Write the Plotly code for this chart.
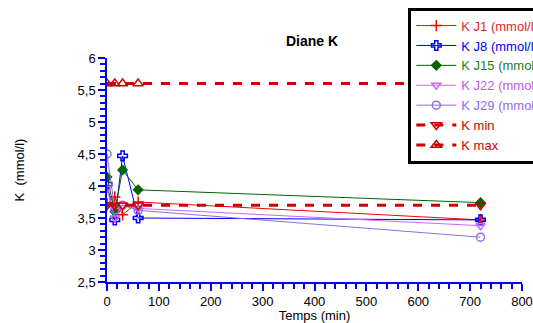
import plotly.graph_objects as go

# Sampling times (min)
temps = [0, 15, 30, 60, 720]

# Potassium values (mmol/l) per day
k_j1 = [3.72, 3.83, 3.55, 3.75, 3.47]
k_j8 = [4.03, 3.47, 4.47, 3.50, 3.47]
k_j15 = [4.14, 3.60, 4.25, 3.94, 3.74]
k_j22 = [3.96, 3.50, 3.70, 3.65, 3.38]
k_j29 = [4.50, 3.63, 3.70, 3.62, 3.20]

# Reference limits
k_min = [3.7, 3.7, 3.7, 3.7, 3.7]
k_max = [5.6, 5.6, 5.6, 5.6, 5.6]

y_ticks = [2.5, 3, 3.5, 4, 4.5, 5, 5.5, 6]
x_ticks = [0, 100, 200, 300, 400, 500, 600, 700, 800]


def label(text, color):
    return f"<span style='color:{color}'>{text}</span>"


series = [
    ("K J1 (mmol/l)", k_j1, "#ff0000", "#e8242b", "cross-thin-open", 8, 1, "solid"),
    ("K J8 (mmol/l)", k_j8, "#0000ff", "#0000ff", "cross-open", 8, 1, "solid"),
    ("K J15 (mmol/l)", k_j15, "#006400", "#1e7d1e", "diamond", 7, 1, "solid"),
    ("K J22 (mmol/l)", k_j22, "#cc66ff", "#c25ce8", "triangle-down-open", 8, 1, "solid"),
    ("K J29 (mmol/l)", k_j29, "#8c6ee6", "#8c6ee6", "circle-open", 8, 1, "solid"),
    ("K min", k_min, "#cc0000", "#cc0000", "triangle-down-open", 9, 3, "dash"),
    ("K max", k_max, "#cc0000", "#cc0000", "triangle-up-open", 9, 3, "dash"),
]

fig = go.Figure()
for name, vals, col, txtcol, sym, size, lw, dash in series:
    fig.add_trace(go.Scatter(
        x=temps, y=vals, mode="lines+markers", name=label(name, txtcol),
        line=dict(color=col, width=lw, dash=dash),
        marker=dict(symbol=sym, size=size, color=col,
                    line=dict(color=col, width=1.5)),
    ))

axis_font = dict(family="Liberation Sans, Arial", size=13, color="black")

fig.update_layout(
    width=533, height=323,
    paper_bgcolor="white", plot_bgcolor="white",
    separators=", ",
    margin=dict(l=107, r=11, t=58, b=41, autoexpand=False),
    font=dict(family="Liberation Sans, Arial", size=12, color="black"),
    title=dict(text="<b>Diane K</b>", x=312 / 533, y=1 - 41 / 323,
               xanchor="center", yanchor="middle",
               font=dict(family="Liberation Sans, Arial", size=14, color="black")),
    showlegend=True,
    legend=dict(x=0.726, y=1.225, xanchor="left", yanchor="top",
                bgcolor="white", bordercolor="black", borderwidth=3,
                font=dict(family="Liberation Sans, Arial", size=13),
                itemwidth=40, tracegroupgap=0),
    xaxis=dict(range=[0, 800], tickvals=x_ticks, showgrid=False, zeroline=False,
               showline=True, linecolor="#0000ff", linewidth=1.5,
               ticks="outside", ticklen=7, tickcolor="#0000ff", tickwidth=1.5,
               tickfont=axis_font,
               minor=dict(dtick=20, ticks="outside", ticklen=5,
                          tickcolor="#0000ff", tickwidth=1.5, showgrid=False),
               title=dict(text="Temps (min)", standoff=2,
                          font=dict(family="Liberation Sans, Arial", size=13))),
    yaxis=dict(range=[2.5, 6], tickvals=y_ticks, showgrid=False, zeroline=False,
               showline=True, linecolor="#0000ff", linewidth=1.5,
               ticks="outside", ticklen=7, tickcolor="#0000ff", tickwidth=1.5,
               tickfont=axis_font,
               minor=dict(dtick=0.1, ticks="outside", ticklen=5,
                          tickcolor="#0000ff", tickwidth=1.5, showgrid=False),
               title=dict(text="K  (mmol/l)", standoff=50,
                          font=dict(family="Liberation Sans, Arial", size=13))),
)

fig.write_html("out.html")
